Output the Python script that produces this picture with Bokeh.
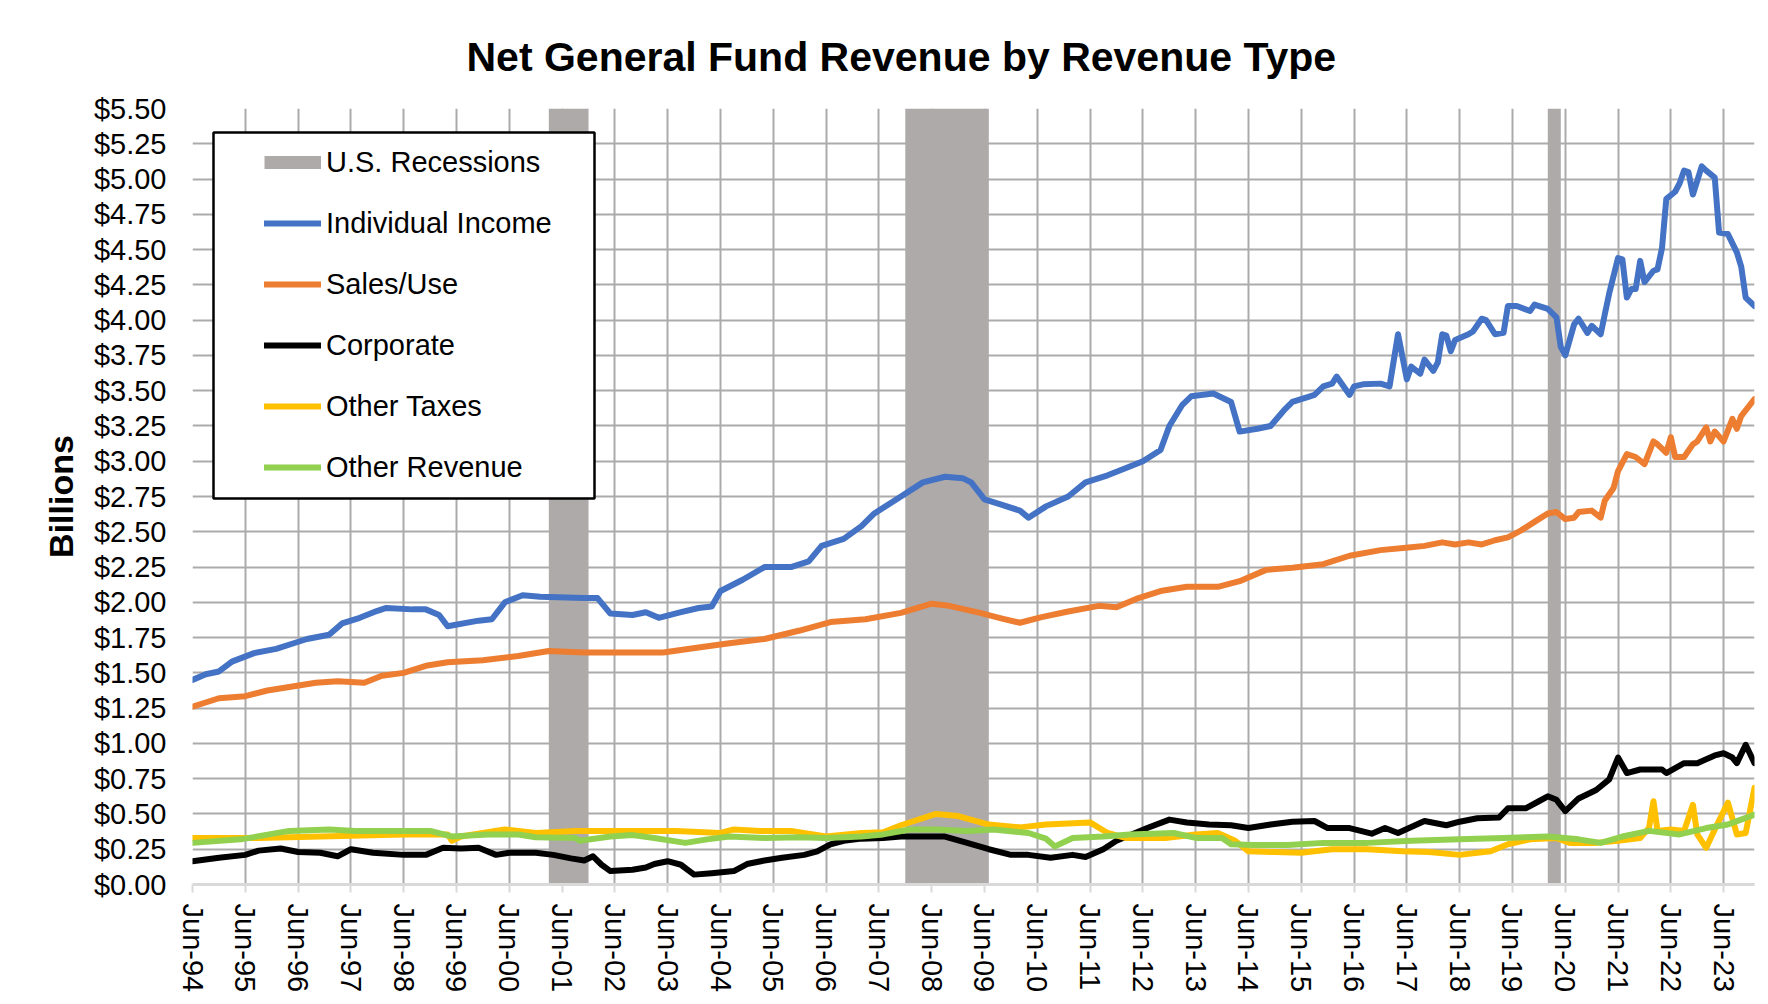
import pandas as pd
from bokeh.plotting import figure
from bokeh.models import (Range1d, FixedTicker, NumeralTickFormatter, DatetimeTickFormatter,
                          Legend, LegendItem, BoxAnnotation)
from bokeh.embed import file_html
from bokeh.resources import INLINE

TITLE = "Net General Fund Revenue by Revenue Type"
Y_LABEL = "Billions"
FONT = "Liberation Sans"

# ---------------- data (billions of dollars) ----------------
recession_start = ["2001-03", "2007-12", "2020-02"]
recession_end = ["2001-11", "2009-06", "2020-04"]

income_dates = [
    "1994-06", "1994-09", "1994-12", "1995-03", "1995-08", "1996-01", "1996-05", "1996-08",
    "1997-01", "1997-04", "1997-08", "1997-12", "1998-02", "1998-08", "1998-11", "1999-02",
    "1999-04", "1999-11", "2000-02", "2000-05", "2000-09", "2001-01", "2001-11", "2002-02",
    "2002-05", "2002-10", "2003-01", "2003-04", "2003-09", "2004-01", "2004-04", "2004-06",
    "2004-11", "2005-04", "2005-10", "2006-02", "2006-05", "2006-10", "2007-02", "2007-05",
    "2007-11", "2008-04", "2008-09", "2009-01", "2009-03", "2009-06", "2009-10", "2010-02",
    "2010-04", "2010-08", "2011-01", "2011-05", "2011-10", "2012-02", "2012-06", "2012-10",
    "2012-12", "2013-03", "2013-05", "2013-10", "2014-02", "2014-04", "2014-08", "2014-11",
    "2015-02", "2015-04", "2015-08", "2015-09", "2015-11", "2016-01", "2016-02", "2016-05",
    "2016-06", "2016-08", "2016-12", "2017-02", "2017-04", "2017-06", "2017-07", "2017-09",
    "2017-10", "2017-12", "2018-01", "2018-02", "2018-03", "2018-04", "2018-05", "2018-08",
    "2018-09", "2018-11", "2018-12", "2019-02", "2019-04", "2019-05", "2019-07", "2019-10",
    "2019-11", "2020-02", "2020-04", "2020-05", "2020-06", "2020-08", "2020-09", "2020-11",
    "2020-12", "2021-02", "2021-03", "2021-04", "2021-06", "2021-07", "2021-08", "2021-09",
    "2021-10", "2021-11", "2021-12", "2022-02", "2022-03", "2022-04", "2022-05", "2022-07",
    "2022-08", "2022-09", "2022-10", "2022-11", "2023-01", "2023-02", "2023-04", "2023-05",
    "2023-07", "2023-09", "2023-10", "2023-11", "2024-01",
]
income_values = [
    1.45, 1.49, 1.51, 1.58, 1.64, 1.67, 1.71, 1.74,
    1.77, 1.85, 1.89, 1.94, 1.96, 1.95, 1.95, 1.91,
    1.83, 1.87, 1.88, 2.00, 2.05, 2.04, 2.03, 2.03,
    1.92, 1.91, 1.93, 1.89, 1.93, 1.96, 1.97, 2.08,
    2.16, 2.25, 2.25, 2.29, 2.40, 2.45, 2.54, 2.63,
    2.75, 2.85, 2.89, 2.88, 2.85, 2.73, 2.69, 2.65,
    2.60, 2.68, 2.75, 2.85, 2.90, 2.95, 3.00, 3.08,
    3.25, 3.40, 3.46, 3.48, 3.42, 3.21, 3.23, 3.25,
    3.36, 3.42, 3.46, 3.47, 3.53, 3.55, 3.60, 3.47,
    3.53, 3.545, 3.55, 3.53, 3.90, 3.58, 3.67, 3.62,
    3.72, 3.64, 3.70, 3.90, 3.89, 3.78, 3.86, 3.90,
    3.92, 4.01, 4.00, 3.90, 3.91, 4.10, 4.10, 4.065,
    4.11, 4.08, 4.02, 3.81, 3.75, 3.97, 4.01, 3.91,
    3.96, 3.90, 4.04, 4.19, 4.44, 4.43, 4.16, 4.22,
    4.22, 4.42, 4.27, 4.35, 4.36, 4.51, 4.86, 4.91,
    4.97, 5.06, 5.05, 4.89, 5.09, 5.06, 5.01, 4.62,
    4.61, 4.48, 4.38, 4.16, 4.10,
]

sales_dates = [
    "1994-06", "1994-12", "1995-06", "1995-11", "1996-04", "1996-10", "1997-03", "1997-09",
    "1998-01", "1998-06", "1998-11", "1999-04", "1999-12", "2000-08", "2001-03", "2001-11",
    "2002-07", "2003-05", "2004-01", "2004-08", "2005-04", "2005-12", "2006-07", "2007-03",
    "2007-11", "2008-06", "2008-10", "2009-05", "2009-10", "2010-02", "2010-07", "2011-01",
    "2011-08", "2011-12", "2012-05", "2012-10", "2013-04", "2013-11", "2014-04", "2014-10",
    "2015-04", "2015-11", "2016-05", "2016-12", "2017-07", "2017-10", "2018-02", "2018-05",
    "2018-08", "2018-11", "2019-02", "2019-05", "2019-08", "2019-11", "2020-02", "2020-04",
    "2020-06", "2020-08", "2020-09", "2020-12", "2021-02", "2021-03", "2021-05", "2021-06",
    "2021-08", "2021-10", "2021-12", "2022-02", "2022-03", "2022-05", "2022-06", "2022-07",
    "2022-09", "2022-11", "2022-12", "2023-02", "2023-03", "2023-04", "2023-06", "2023-08",
    "2023-09", "2023-10", "2024-01",
]
sales_values = [
    1.26, 1.32, 1.335, 1.375, 1.40, 1.43, 1.44, 1.43,
    1.48, 1.50, 1.55, 1.575, 1.59, 1.62, 1.655, 1.645,
    1.645, 1.645, 1.68, 1.71, 1.74, 1.80, 1.86, 1.88,
    1.925, 1.99, 1.975, 1.925, 1.885, 1.855, 1.895, 1.935,
    1.975, 1.965, 2.03, 2.08, 2.11, 2.11, 2.15, 2.23,
    2.245, 2.27, 2.33, 2.37, 2.39, 2.40, 2.425, 2.41,
    2.425, 2.41, 2.44, 2.46, 2.51, 2.57, 2.63, 2.64,
    2.59, 2.60, 2.64, 2.65, 2.60, 2.72, 2.81, 2.93,
    3.05, 3.03, 2.98, 3.14, 3.12, 3.06, 3.17, 3.03,
    3.03, 3.12, 3.14, 3.24, 3.14, 3.21, 3.14, 3.30,
    3.23, 3.32, 3.44,
]

corporate_dates = [
    "1994-06", "1994-12", "1995-06", "1995-09", "1996-02", "1996-06", "1996-11", "1997-03",
    "1997-06", "1997-11", "1998-06", "1998-11", "1999-03", "1999-07", "1999-11", "2000-03",
    "2000-06", "2000-12", "2001-04", "2001-08", "2001-11", "2002-01", "2002-03", "2002-05",
    "2002-10", "2003-01", "2003-03", "2003-06", "2003-09", "2003-12", "2004-04", "2004-09",
    "2004-12", "2005-04", "2005-08", "2006-01", "2006-04", "2006-07", "2006-10", "2007-02",
    "2007-07", "2007-11", "2008-02", "2008-09", "2009-02", "2009-07", "2009-12", "2010-04",
    "2010-09", "2011-02", "2011-05", "2011-09", "2011-12", "2012-07", "2012-12", "2013-04",
    "2013-09", "2014-02", "2014-06", "2014-11", "2015-04", "2015-09", "2015-12", "2016-05",
    "2016-10", "2017-01", "2017-04", "2017-10", "2018-03", "2018-06", "2018-10", "2019-03",
    "2019-05", "2019-09", "2019-12", "2020-02", "2020-04", "2020-06", "2020-09", "2021-01",
    "2021-04", "2021-06", "2021-08", "2021-11", "2022-04", "2022-05", "2022-09", "2022-12",
    "2023-04", "2023-06", "2023-08", "2023-09", "2023-11", "2024-01",
]
corporate_values = [
    0.165, 0.19, 0.21, 0.24, 0.255, 0.23, 0.225, 0.20,
    0.25, 0.225, 0.21, 0.21, 0.26, 0.255, 0.26, 0.21,
    0.225, 0.225, 0.21, 0.185, 0.17, 0.20, 0.14, 0.095,
    0.105, 0.12, 0.145, 0.165, 0.14, 0.07, 0.08, 0.095,
    0.145, 0.17, 0.19, 0.21, 0.235, 0.285, 0.31, 0.325,
    0.33, 0.34, 0.34, 0.34, 0.295, 0.25, 0.21, 0.21,
    0.19, 0.21, 0.195, 0.25, 0.31, 0.40, 0.46, 0.44,
    0.425, 0.42, 0.40, 0.425, 0.445, 0.45, 0.40, 0.40,
    0.36, 0.40, 0.365, 0.45, 0.42, 0.445, 0.47, 0.475,
    0.54, 0.54, 0.59, 0.625, 0.60, 0.52, 0.61, 0.67,
    0.745, 0.90, 0.79, 0.815, 0.815, 0.79, 0.86, 0.86,
    0.915, 0.93, 0.90, 0.86, 0.99, 0.86,
]

other_taxes_dates = [
    "1994-06", "1995-09", "1996-11", "1998-06", "1999-04", "1999-05", "1999-07", "2000-05",
    "2000-12", "2001-09", "2002-10", "2003-08", "2004-06", "2004-09", "2005-03", "2005-10",
    "2006-06", "2007-02", "2007-07", "2007-11", "2008-07", "2008-12", "2009-07", "2010-02",
    "2010-08", "2011-06", "2011-10", "2012-02", "2012-11", "2013-06", "2013-11", "2014-03",
    "2014-06", "2014-12", "2015-06", "2016-01", "2016-09", "2017-05", "2017-11", "2018-06",
    "2019-01", "2019-05", "2019-10", "2020-04", "2020-07", "2021-01", "2021-06", "2021-11",
    "2022-01", "2022-02", "2022-03", "2022-06", "2022-09", "2022-11", "2022-12", "2023-02",
    "2023-04", "2023-07", "2023-09", "2023-11", "2024-01",
]
other_taxes_values = [
    0.33, 0.33, 0.34, 0.355, 0.355, 0.31, 0.34, 0.39,
    0.365, 0.38, 0.38, 0.38, 0.365, 0.39, 0.38, 0.38,
    0.34, 0.365, 0.37, 0.42, 0.50, 0.485, 0.425, 0.405,
    0.425, 0.44, 0.365, 0.33, 0.33, 0.355, 0.365, 0.31,
    0.235, 0.23, 0.225, 0.25, 0.25, 0.235, 0.23, 0.21,
    0.235, 0.285, 0.32, 0.33, 0.295, 0.295, 0.31, 0.33,
    0.40, 0.59, 0.38, 0.39, 0.38, 0.565, 0.355, 0.26,
    0.39, 0.58, 0.355, 0.365, 0.685,
]

other_revenue_dates = [
    "1994-06", "1995-05", "1996-04", "1997-01", "1997-07", "1998-06", "1998-12", "1999-05",
    "2000-01", "2000-08", "2000-12", "2001-09", "2001-10", "2002-05", "2002-10", "2003-03",
    "2003-10", "2004-03", "2004-08", "2005-04", "2005-12", "2006-06", "2007-02", "2007-07",
    "2008-01", "2008-07", "2009-02", "2009-08", "2010-04", "2010-08", "2010-10", "2011-02",
    "2011-09", "2012-03", "2013-01", "2013-06", "2013-12", "2014-02", "2014-07", "2015-03",
    "2015-11", "2016-09", "2017-07", "2018-06", "2019-04", "2020-02", "2020-09", "2021-02",
    "2021-07", "2022-01", "2022-08", "2023-02", "2023-07", "2024-01",
]
other_revenue_values = [
    0.295, 0.32, 0.38, 0.39, 0.38, 0.38, 0.38, 0.34,
    0.355, 0.355, 0.335, 0.33, 0.31, 0.34, 0.35, 0.33,
    0.295, 0.32, 0.34, 0.33, 0.335, 0.33, 0.34, 0.355,
    0.39, 0.39, 0.38, 0.39, 0.365, 0.325, 0.27, 0.33,
    0.34, 0.355, 0.365, 0.33, 0.33, 0.285, 0.28, 0.28,
    0.295, 0.295, 0.31, 0.32, 0.33, 0.34, 0.32, 0.295,
    0.34, 0.38, 0.355, 0.40, 0.425, 0.495,
]

series = [
    ("Individual Income", income_dates, income_values, "#4472C4"),
    ("Sales/Use", sales_dates, sales_values, "#ED7D31"),
    ("Corporate", corporate_dates, corporate_values, "#000000"),
    ("Other Taxes", other_taxes_dates, other_taxes_values, "#FFC000"),
    ("Other Revenue", other_revenue_dates, other_revenue_values, "#92D050"),
]

Y_MAX = 5.5
RECESSION_COLOR = "#AEAAAA"
GRID_COLOR = "#ABABAB"


def to_dt(dates):
    return pd.to_datetime(dates, format="%Y-%m")


x_start = pd.Timestamp("1994-06-01")
x_end = pd.Timestamp("2024-01-01")

p = figure(
    width=1760, height=996,
    x_axis_type="datetime",
    x_range=Range1d(x_start, x_end),
    y_range=Range1d(0, Y_MAX),
    output_backend="svg",
    toolbar_location=None,
    min_border_left=192, min_border_right=6,
    min_border_top=108, min_border_bottom=112,
    background_fill_color="white",
    border_fill_color="white",
)
p.outline_line_color = None

# title
p.title.text = TITLE
p.title.text_font = FONT
p.title.text_font_size = "41px"
p.title.text_font_style = "bold"
p.title.text_color = "#000000"
p.title.align = "left"
p.title.offset = 274
p.title.standoff = 58

# recession bands (whole months)
rec_left = to_dt(recession_start)
rec_right = to_dt(recession_end) + pd.offsets.MonthBegin(1)
p.quad(left=rec_left, right=rec_right, bottom=0, top=Y_MAX,
       fill_color=RECESSION_COLOR, line_color=None)
# legend swatch for the recession bands (no visible data)
rec_legend_glyph = p.line(x=[x_start], y=[float("nan")], line_width=13,
                          line_color=RECESSION_COLOR, line_cap="butt")

renderers = {}
for name, dates, values, color in series:
    r = p.line(to_dt(dates), values, line_width=6, line_color=color,
               line_join="round", line_cap="round")
    renderers[name] = r

# axes
tick_dates = pd.date_range("1994-06-01", "2023-06-01", freq="12MS")
xticker = FixedTicker(ticks=[t.timestamp() * 1000 for t in tick_dates])
p.xaxis.ticker = xticker
p.xgrid.ticker = xticker
fmt = "%b-%y"
p.xaxis.formatter = DatetimeTickFormatter(
    years=fmt, months=fmt, days=fmt, hours=fmt, minutes=fmt,
    seconds=fmt, milliseconds=fmt, microseconds=fmt, hourmin=fmt, minsec=fmt)
p.xaxis.major_label_orientation = "vertical"
p.xaxis.major_label_text_font = FONT
p.xaxis.major_label_text_font_size = "29px"
p.xaxis.major_label_text_color = "#000000"
p.xaxis.major_label_standoff = 11
p.xaxis.axis_line_color = "#D9D9D9"
p.xaxis.axis_line_width = 3
p.xaxis.major_tick_line_color = "#D9D9D9"
p.xaxis.major_tick_line_width = 2
p.xaxis.major_tick_out = 8
p.xaxis.major_tick_in = 0
p.xaxis.minor_tick_line_color = None

yticks = [i * 0.25 for i in range(23)]
p.yaxis.ticker = FixedTicker(ticks=yticks)
p.ygrid.ticker = FixedTicker(ticks=yticks)
p.yaxis.formatter = NumeralTickFormatter(format="$0.00")
p.yaxis.major_label_text_font = FONT
p.yaxis.major_label_text_font_size = "29px"
p.yaxis.major_label_text_color = "#000000"
p.yaxis.major_label_standoff = 20
p.yaxis.axis_line_color = None
p.yaxis.major_tick_line_color = None
p.yaxis.minor_tick_line_color = None
p.yaxis.axis_label = Y_LABEL
p.yaxis.axis_label_text_font = FONT
p.yaxis.axis_label_text_font_size = "34px"
p.yaxis.axis_label_text_font_style = "bold"
p.yaxis.axis_label_text_color = "#000000"
p.yaxis.axis_label_standoff = 11

for g in (p.xgrid, p.ygrid):
    g.grid_line_color = GRID_COLOR
    g.grid_line_width = 2

# legend box
box = BoxAnnotation(left=21, right=402, bottom=386, top=752,
                    left_units="screen", right_units="screen",
                    bottom_units="screen", top_units="screen",
                    fill_color="white", fill_alpha=1.0,
                    line_color="black", line_alpha=1.0, line_width=2.5)
p.add_layout(box)

items = [LegendItem(label="U.S. Recessions", renderers=[rec_legend_glyph])]
for name, _, _, _ in series:
    items.append(LegendItem(label=name, renderers=[renderers[name]]))

legend = Legend(
    items=items, location=(72, 400), orientation="vertical",
    padding=10, spacing=27, margin=0,
    glyph_width=57, glyph_height=34, label_height=34, label_standoff=5,
    label_text_font=FONT, label_text_font_size="29px", label_text_color="#000000",
    border_line_color=None, background_fill_alpha=0,
)
p.add_layout(legend)

open("out.html", "w").write(file_html(p, INLINE))
